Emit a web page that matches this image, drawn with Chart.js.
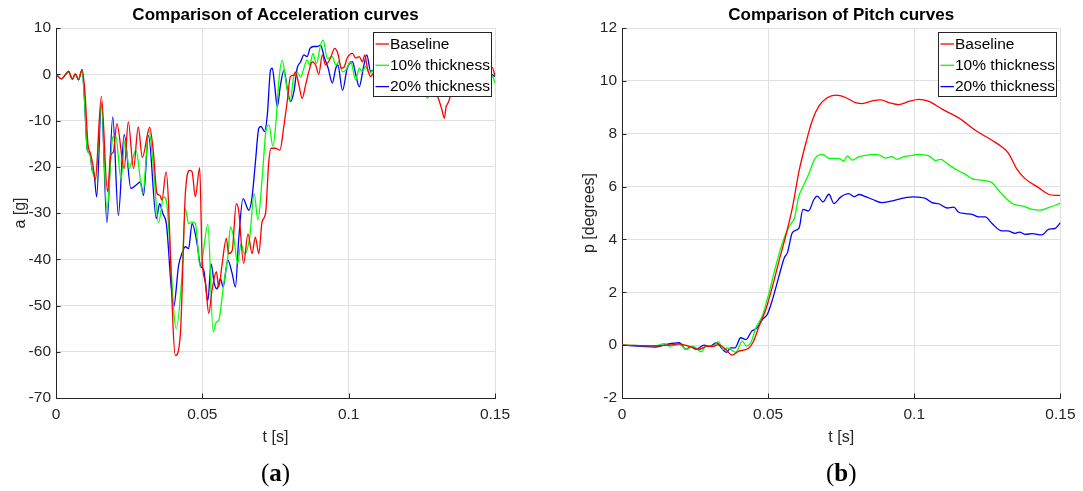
<!DOCTYPE html>
<html>
<head>
<meta charset="utf-8">
<title>Acceleration and pitch comparison</title>
<script src="https://cdn.jsdelivr.net/npm/chart.js@4.4.1/dist/chart.umd.min.js"></script>
<style>
  html, body { margin: 0; padding: 0; background: #ffffff; }
  #wrap { position: relative; width: 1083px; height: 491px; overflow: hidden; background: #ffffff; }
  canvas { position: absolute; top: 0; }
  #accCanvas { left: 0; }
  #pitchCanvas { left: 560px; }
</style>
</head>
<body>
<div id="wrap">
  <canvas id="accCanvas" width="560" height="491"></canvas>
  <canvas id="pitchCanvas" width="523" height="491"></canvas>
</div>
<script>
// ---- series names, colours and tick values ----
const seriesLabels = ['Baseline', '10% thickness', '20% thickness'];
const seriesColors = ['#ff0000', '#00ff00', '#0000ff'];
const timeTicks = [0, 0.05, 0.1, 0.15];
const accTicks = [-70, -60, -50, -40, -30, -20, -10, 0, 10];
const pitchTicks = [-2, 0, 2, 4, 6, 8, 10, 12];

// ---- acceleration a [g] against time t [s] ----
const accBaseT = [0,0.0019,0.0031,0.0043,0.0056,0.0066,0.0077,0.0089,0.0099,0.0109,0.0117,0.0126,0.0134,0.0155,0.0176,0.0187,0.0196,0.0208,0.0233,0.0247,0.0265,0.0281,0.0295,0.0320,0.0333,0.0345,0.0355,0.0362,0.0376,0.0408,0.0425,0.0442,0.0457,0.0465,0.0476,0.0491,0.0499,0.0511,0.0522,0.0533,0.0548,0.0556,0.0567,0.0582,0.0590,0.0602,0.0616,0.0624,0.0641,0.0656,0.0670,0.0681,0.0693,0.0704,0.0716,0.0727,0.0735,0.0750,0.0765,0.0779,0.0790,0.0801,0.0813,0.0818,0.0830,0.0841,0.0853,0.0864,0.0876,0.0887,0.0898,0.0910,0.0921,0.0938,0.0952,0.0963,0.0975,0.0984,0.0995,0.1013,0.1024,0.1036,0.1047,0.1055,0.1064,0.1075,0.1087,0.1105,0.1125,0.1145,0.1165,0.1185,0.1205,0.1225,0.1245,0.1265,0.1285,0.1304,0.1318,0.1327,0.1333,0.1336,0.1344,0.1355,0.1375,0.1395,0.1415,0.1435,0.1455,0.1475,0.1490,0.1500];
const accBaseA = [0,-1.0,-0.2,0.6,-1.1,0.1,-1.2,1.0,-4,-15,-17,-19.5,-22.9,-4.8,-25.4,-17.5,-16.8,-10.7,-20.4,-10.3,-20.4,-11.4,-18,-11.5,-17,-25.8,-26.2,-27.2,-21.1,-60.8,-56.1,-25.8,-20.8,-21.1,-26.5,-20.2,-39.5,-45.3,-51.7,-46.7,-42.7,-46,-41.3,-35.5,-38.8,-38.1,-28,-29.4,-40.9,-34.5,-38.8,-35.2,-38.8,-31.9,-30.1,-18.9,-16,-16,-16.4,-11,-5.9,-0.5,-0.2,0.5,-2.3,-5.2,-2.3,0.6,2.7,2,0,4.2,2,3.5,5.6,4.5,1.3,1.5,3.5,4.5,3.5,3.8,2.7,4.2,1.3,-0.5,0.6,2.5,0.5,3,1,2.5,0,1.5,-1,-2.5,-2,-4.8,-7.5,-9.5,-7,-6.6,-5.5,-2,1,-0.5,2,0.5,2.5,1,1.5,-0.3];

const acc10T = [0,0.0019,0.0031,0.0043,0.0056,0.0066,0.0077,0.0089,0.0097,0.0107,0.0116,0.0124,0.0136,0.0155,0.0174,0.0194,0.0204,0.0222,0.0236,0.0250,0.0261,0.0273,0.0297,0.0317,0.0333,0.0350,0.0368,0.0379,0.0411,0.0430,0.0442,0.0453,0.0465,0.0476,0.0493,0.0519,0.0537,0.0548,0.0556,0.0573,0.0587,0.0596,0.0607,0.0621,0.0632,0.0644,0.0662,0.0677,0.0690,0.0705,0.0718,0.0728,0.0741,0.0752,0.0762,0.0773,0.0785,0.0800,0.0812,0.0824,0.0836,0.0847,0.0858,0.0867,0.0878,0.0890,0.0904,0.0913,0.0927,0.0944,0.0956,0.0967,0.0979,0.0990,0.1007,0.1024,0.1036,0.1047,0.1058,0.1070,0.1087,0.1105,0.1125,0.1145,0.1165,0.1185,0.1205,0.1225,0.1245,0.1262,0.1270,0.1280,0.1300,0.1320,0.1340,0.1360,0.1380,0.1400,0.1420,0.1440,0.1460,0.1480,0.1495,0.1500];
const acc10A = [0,-1.0,-0.2,0.6,-1.1,0.1,-1.2,1.0,-5,-16.4,-17.2,-20.8,-22.6,-6,-29.4,-13.6,-13.2,-22.6,-14.3,-20.4,-18.5,-16.4,-25.8,-12,-20,-32.2,-26.5,-28.3,-55,-43.8,-29.1,-32.3,-32,-32.3,-41.7,-32.5,-55.7,-53.6,-53.2,-45.3,-39.5,-33,-35.2,-40.9,-36.6,-38.8,-35.2,-25.8,-31.5,-22,-12,-11,-15.6,-10,-1,3,-1.3,-5.9,-0.6,0.4,-0.6,1.3,3.1,2.0,4.5,2.3,6.3,7.4,3.4,3.8,2,2.7,0.5,0.9,2.7,-1.2,1.3,0.6,1.7,0.2,0.9,-1,1.5,-0.5,1,-1.5,0.5,-1,-2.5,-4.5,-5.2,-3,-1,0.5,-1,1,-0.5,1,-0.5,1,0,0.5,-0.9,-2];

const acc20T = [0,0.0019,0.0031,0.0043,0.0056,0.0066,0.0077,0.0089,0.0097,0.0107,0.0116,0.0124,0.0130,0.0139,0.0155,0.0174,0.0194,0.0213,0.0233,0.0256,0.0273,0.0288,0.0299,0.0316,0.0343,0.0354,0.0365,0.0377,0.0402,0.0419,0.0430,0.0442,0.0453,0.0465,0.0482,0.0493,0.0505,0.0519,0.0530,0.0541,0.0550,0.0562,0.0571,0.0587,0.0602,0.0613,0.0624,0.0639,0.0659,0.0670,0.0681,0.0693,0.0701,0.0712,0.0722,0.0733,0.0739,0.0747,0.0756,0.0767,0.0779,0.0790,0.0801,0.0813,0.0824,0.0836,0.0847,0.0858,0.0868,0.0881,0.0893,0.0904,0.0916,0.0930,0.0944,0.0956,0.0963,0.0979,0.0995,0.1013,0.1024,0.1036,0.1050,0.1062,0.1075,0.1087,0.1105,0.1125,0.1145,0.1165,0.1185,0.1205,0.1225,0.1245,0.1265,0.1285,0.1305,0.1325,0.1345,0.1365,0.1385,0.1405,0.1425,0.1445,0.1465,0.1485,0.1500];
const acc20A = [0,-1.0,-0.2,0.6,-1.1,0.1,-1.2,1.0,-5,-16.4,-17.2,-20.8,-21.5,-26.5,-6.3,-32.1,-9.2,-30.5,-13,-24.7,-24,-23.3,-26.2,-13.2,-31.2,-28,-30.1,-32.3,-50.3,-41.3,-38.8,-37.3,-37.7,-32.3,-36.6,-41.3,-42.4,-48.9,-41,-45.3,-46.4,-44.2,-46,-40.2,-43.1,-46,-35.9,-26.9,-29.4,-26.5,-19.3,-11.7,-11.3,-12.4,-8.8,0.9,1.3,-2.3,-7,-2.3,0.9,-3,-5.9,-3.7,1.3,2.7,4.2,3.8,5.6,6,6,6.3,3.8,1.3,-1.9,1.3,2,-3.5,1.3,2.7,0,-2.7,1.3,4.2,0.6,1,-1,1.5,-1.5,1,-1,0.5,-2,0,-1.5,0.5,-1,1,-1.5,0.5,-1,1,-1,0.5,-1,0,-0.5];

// ---- pitch p [degrees] against time t [s] ----
const pitchBaseT = [0,0.0116,0.0160,0.0196,0.0230,0.0264,0.0290,0.0310,0.0330,0.0355,0.0376,0.0400,0.0420,0.0435,0.0450,0.0469,0.0492,0.0515,0.0537,0.0560,0.0583,0.0606,0.0628,0.0651,0.0674,0.0702,0.0731,0.0765,0.0799,0.0822,0.0856,0.0885,0.0913,0.0947,0.0981,0.1015,0.1050,0.1095,0.1152,0.1209,0.1266,0.1300,0.1323,0.1351,0.1379,0.1425,0.1459,0.1480,0.1500];
const pitchBaseP = [0,-0.03,0,0.05,-0.05,-0.16,-0.05,-0.05,0.02,-0.16,-0.38,-0.23,-0.18,-0.1,0.15,0.72,1.35,2.23,3.18,4.13,5.2,6.6,7.6,8.5,9.05,9.36,9.46,9.37,9.18,9.14,9.24,9.28,9.18,9.1,9.22,9.3,9.22,8.93,8.6,8.13,7.75,7.5,7.25,6.66,6.3,5.96,5.71,5.67,5.67];

const pitch10T = [0,0.0116,0.0145,0.0163,0.0196,0.0221,0.0242,0.0272,0.0287,0.0310,0.0330,0.0346,0.0361,0.0389,0.0412,0.0426,0.0441,0.0458,0.0480,0.0503,0.0526,0.0549,0.0566,0.0578,0.0590,0.0604,0.0617,0.0640,0.0655,0.0668,0.0685,0.0708,0.0742,0.0759,0.0771,0.0788,0.0811,0.0833,0.0856,0.0879,0.0902,0.0924,0.0941,0.0964,0.0981,0.1015,0.1050,0.1072,0.1090,0.1118,0.1152,0.1175,0.1198,0.1232,0.1266,0.1289,0.1317,0.1340,0.1368,0.1403,0.1431,0.1459,0.1500];
const pitch10P = [0,-0.02,0.06,-0.04,0.02,-0.16,-0.04,-0.25,-0.04,-0.04,0.13,-0.16,-0.1,-0.27,0.15,-0.04,0.1,0.66,1.1,1.98,2.99,3.88,4.35,4.6,4.8,5.6,5.95,6.5,6.95,7.16,7.22,7.07,7.06,6.97,7.16,7.0,7.13,7.18,7.22,7.2,7.08,7.13,7.03,7.13,7.16,7.22,7.16,6.99,7.03,6.82,6.59,6.46,6.3,6.24,6.15,5.85,5.52,5.33,5.27,5.14,5.11,5.2,5.37];

const pitch20T = [0,0.0116,0.0150,0.0196,0.0219,0.0236,0.0253,0.0281,0.0300,0.0323,0.0344,0.0357,0.0372,0.0387,0.0406,0.0424,0.0444,0.0463,0.0480,0.0497,0.0515,0.0537,0.0555,0.0566,0.0583,0.0606,0.0619,0.0638,0.0657,0.0668,0.0688,0.0708,0.0725,0.0748,0.0776,0.0795,0.0811,0.0833,0.0856,0.0890,0.0920,0.0970,0.0998,0.1038,0.1061,0.1084,0.1112,0.1135,0.1152,0.1175,0.1198,0.1221,0.1243,0.1266,0.1300,0.1320,0.1345,0.1360,0.1380,0.1403,0.1437,0.1459,0.1482,0.1500];
const pitch20P = [0,-0.07,0.02,0.09,-0.16,-0.06,-0.16,0,-0.04,0.09,-0.16,-0.27,-0.1,-0.1,0.28,0.21,0.53,0.66,0.97,1.16,1.73,2.61,3.3,3.5,4.26,4.44,5.14,5.08,5.52,5.64,5.42,5.71,5.36,5.6,5.73,5.62,5.7,5.62,5.52,5.39,5.45,5.58,5.61,5.55,5.39,5.35,5.19,5.22,5.03,4.98,4.95,4.85,4.85,4.6,4.32,4.32,4.23,4.28,4.19,4.22,4.17,4.38,4.42,4.63];

// ---- shared styling ----
const SANS = '"Liberation Sans", Arial, Helvetica, sans-serif';
const axisColor = '#262626';
const gridColor = '#e0e0e0';
const tickFont = { family: SANS, size: 15.5 };
const axisTitleFont = { family: SANS, size: 16 };
const fmt = v => String(Math.round(v * 10000) / 10000);

function toPoints(ts, vs) {
  return ts.map((t, i) => ({ x: t, y: vs[i] }));
}

function makeDatasets(pairs) {
  return pairs.map(([ts, vs], i) => ({
    label: seriesLabels[i],
    data: toPoints(ts, vs),
    borderColor: seriesColors[i],
    backgroundColor: seriesColors[i],
    borderWidth: 1.3,
    pointRadius: 0,
    pointHoverRadius: 0,
    fill: false,
    cubicInterpolationMode: 'monotone'
  }));
}

// legend drawn inside the plot, boxed, on top of the curves
const boxLegend = {
  id: 'boxLegend',
  afterDatasetsDraw(chart) {
    const { ctx, chartArea } = chart;
    ctx.save();
    ctx.font = '15.5px ' + SANS;
    const labels = chart.data.datasets.map(d => d.label);
    const textW = Math.max(...labels.map(l => ctx.measureText(l).width));
    const w = Math.round(17 + textW + 1.5);
    const h = 64;
    const x = Math.round(chartArea.right - 4 - w);
    const y = Math.round(chartArea.top + 4);
    ctx.fillStyle = '#ffffff';
    ctx.fillRect(x, y, w, h);
    ctx.strokeStyle = axisColor;
    ctx.lineWidth = 1;
    ctx.strokeRect(x + 0.5, y + 0.5, w, h);
    chart.data.datasets.forEach((d, i) => {
      const cy = y + 12 + i * 21.3;
      ctx.strokeStyle = d.borderColor;
      ctx.lineWidth = 1.3;
      ctx.beginPath();
      ctx.moveTo(x + 2.5, cy);
      ctx.lineTo(x + 16, cy);
      ctx.stroke();
      ctx.fillStyle = '#000000';
      ctx.textAlign = 'left';
      ctx.textBaseline = 'middle';
      ctx.fillText(d.label, x + 17, cy + 0.5);
    });
    ctx.restore();
  }
};

// short tick marks pointing into the plot on the left and bottom axes
const innerTicks = {
  id: 'innerTicks',
  afterDatasetsDraw(chart) {
    const { ctx, chartArea: a, scales } = chart;
    ctx.save();
    ctx.strokeStyle = axisColor;
    ctx.lineWidth = 1;
    ctx.beginPath();
    scales.x.ticks.forEach(t => {
      const px = Math.round(scales.x.getPixelForValue(t.value)) + 0.5;
      ctx.moveTo(px, a.bottom);
      ctx.lineTo(px, a.bottom - 4.5);
    });
    scales.y.ticks.forEach(t => {
      const py = Math.round(scales.y.getPixelForValue(t.value)) + 0.5;
      ctx.moveTo(a.left, py);
      ctx.lineTo(a.left + 4.5, py);
    });
    ctx.stroke();
    ctx.restore();
  }
};

// panel caption such as (a) under the axis title
const caption = {
  id: 'caption',
  afterDraw(chart, args, opts) {
    const { ctx, chartArea: a } = chart;
    const parts = [
      ['(', '25px "Liberation Serif", "Times New Roman", serif'],
      [opts.letter, 'bold 25px "Liberation Serif", "Times New Roman", serif'],
      [')', '25px "Liberation Serif", "Times New Roman", serif']
    ];
    ctx.save();
    let total = 0;
    parts.forEach(([s, f]) => { ctx.font = f; total += ctx.measureText(s).width; });
    let x = (a.left + a.right) / 2 - total / 2;
    ctx.fillStyle = '#000000';
    ctx.textAlign = 'left';
    ctx.textBaseline = 'alphabetic';
    parts.forEach(([s, f]) => {
      ctx.font = f;
      ctx.fillText(s, x, 481);
      x += ctx.measureText(s).width;
    });
    ctx.restore();
  }
};

function makeChart(canvasId, cfg) {
  return new Chart(document.getElementById(canvasId), {
    type: 'line',
    data: { datasets: cfg.datasets },
    plugins: [boxLegend, innerTicks, caption],
    options: {
      responsive: false,
      animation: false,
      devicePixelRatio: 1,
      events: [],
      layout: { padding: { left: 0, top: 0, right: cfg.padRight, bottom: 0 } },
      plugins: {
        legend: { display: false },
        tooltip: { enabled: false },
        title: {
          display: true,
          text: cfg.title,
          fullSize: false,
          color: '#000000',
          font: { family: SANS, size: 17, weight: 'bold', lineHeight: 1.2 },
          padding: { top: 5, bottom: 2.6 }
        },
        caption: { letter: cfg.letter }
      },
      scales: {
        x: {
          type: 'linear',
          min: 0,
          max: 0.15,
          afterBuildTicks: s => { s.ticks = timeTicks.map(v => ({ value: v })); },
          afterFit: s => { s.height = 93; },
          grid: { color: gridColor, lineWidth: 1, drawTicks: false },
          border: { display: true, color: axisColor, width: 1 },
          ticks: { font: tickFont, color: axisColor, padding: 7.5, maxRotation: 0, autoSkip: false, callback: v => fmt(v) },
          title: { display: true, text: 't [s]', color: axisColor, font: axisTitleFont, padding: { top: 0, bottom: 44 } }
        },
        y: {
          type: 'linear',
          min: cfg.yTicks[0],
          max: cfg.yTicks[cfg.yTicks.length - 1],
          afterBuildTicks: s => { s.ticks = cfg.yTicks.map(v => ({ value: v })); },
          afterFit: s => { s.width = cfg.yWidth; },
          grid: { color: gridColor, lineWidth: 1, drawTicks: false },
          border: { display: true, color: axisColor, width: 1 },
          ticks: { font: tickFont, color: axisColor, padding: 5, autoSkip: false, callback: v => fmt(v) },
          title: { display: true, text: cfg.yTitle, color: axisColor, font: axisTitleFont, padding: { top: cfg.yTitlePad, bottom: 0 } }
        }
      }
    }
  });
}

makeChart('accCanvas', {
  title: 'Comparison of Acceleration curves',
  letter: 'a',
  yTitle: 'a [g]',
  yTicks: accTicks,
  yWidth: 56,
  yTitlePad: 11,
  padRight: 65,
  datasets: makeDatasets([[accBaseT, accBaseA], [acc10T, acc10A], [acc20T, acc20A]])
});

makeChart('pitchCanvas', {
  title: 'Comparison of Pitch curves',
  letter: 'b',
  yTitle: 'p [degrees]',
  yTicks: pitchTicks,
  yWidth: 62,
  yTitlePad: 20,
  padRight: 22,
  datasets: makeDatasets([[pitchBaseT, pitchBaseP], [pitch10T, pitch10P], [pitch20T, pitch20P]])
});
</script>
</body>
</html>
